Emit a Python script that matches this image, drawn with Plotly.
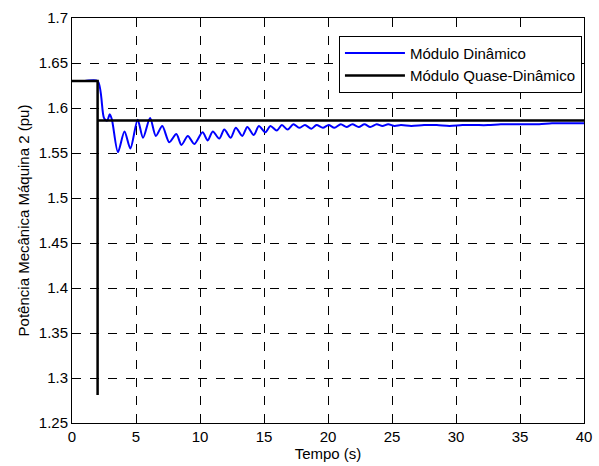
import plotly.graph_objects as go

# Módulo Dinâmico (key points / extremes)
t_din = [0, 1.0, 2.0, 2.5, 2.75, 2.95, 3.12, 3.59, 4.1, 4.56, 5.13, 5.55, 6.1, 6.55, 7.05,
         7.6, 8.15, 8.55, 9.05, 9.55, 10.2, 10.6, 11.0, 11.5, 11.9, 12.4, 12.8, 13.3,
         13.7, 14.2, 14.6, 15.1, 15.5, 16.0, 16.4, 16.85, 17.3, 17.75, 18.2, 18.7, 19.1,
         19.6, 20.05, 20.5, 21.0, 21.45, 21.9, 22.4, 22.85, 23.3, 23.8, 24.25, 24.7,
         25.2, 25.7, 26.5, 27.5, 28.5, 29.5, 30.5, 31.5, 32.5, 33.5, 34.5, 35.5, 36.5,
         37.5, 38.5, 40]
p_din = [1.630, 1.630, 1.630, 1.589, 1.586, 1.593, 1.587, 1.551, 1.574, 1.555, 1.587, 1.567,
         1.589, 1.569, 1.580, 1.562, 1.571, 1.559, 1.569, 1.560, 1.573, 1.564, 1.574, 1.566,
         1.576, 1.567, 1.578, 1.569, 1.579, 1.570, 1.580, 1.573, 1.580, 1.575, 1.581, 1.576,
         1.582, 1.578, 1.581, 1.577, 1.581, 1.578, 1.581, 1.578, 1.582, 1.579, 1.582, 1.579,
         1.582, 1.579, 1.582, 1.580, 1.582, 1.580, 1.581, 1.580, 1.581, 1.581, 1.580, 1.581,
         1.581, 1.581, 1.582, 1.582, 1.582, 1.582, 1.583, 1.583, 1.583]

# Módulo Quase-Dinâmico
t_qd = [0, 2.0, 2.0, 2.0, 40]
p_qd = [1.630, 1.630, 1.281, 1.586, 1.586]

x_ticks = [0, 5, 10, 15, 20, 25, 30, 35, 40]
y_ticks = [1.25, 1.3, 1.35, 1.4, 1.45, 1.5, 1.55, 1.6, 1.65, 1.7]
y_tick_text = ["1.25", "1.3", "1.35", "1.4", "1.45", "1.5", "1.55", "1.6", "1.65", "1.7"]

fig = go.Figure()
fig.add_trace(go.Scatter(x=t_din, y=p_din, mode="lines", name="Módulo Dinâmico",
                         line=dict(color="#0000ff", width=2, shape="spline", smoothing=0.8)))
fig.add_trace(go.Scatter(x=t_qd, y=p_qd, mode="lines", name="Módulo Quase-Dinâmico",
                         line=dict(color="#000000", width=2.5)))

font = "Liberation Sans, Arial, sans-serif"
axis_common = dict(showline=True, linecolor="black", linewidth=1, mirror="allticks",
                   ticks="inside", ticklen=5, tickcolor="black", showgrid=True,
                   gridcolor="black", gridwidth=1, griddash="dash", zeroline=False,
                   ticklabeloverflow="allow",
                   tickfont=dict(family=font, size=15, color="black"))

fig.update_xaxes(range=[0, 40], tickvals=x_ticks,
                 title=dict(text="Tempo (s)", font=dict(family=font, size=15, color="black"),
                            standoff=2), **axis_common)
fig.update_yaxes(range=[1.25, 1.7], tickvals=y_ticks, ticktext=y_tick_text,
                 title=dict(text="Potência Mecânica Máquina 2 (pu)",
                            font=dict(family=font, size=15, color="black"), standoff=5),
                 **axis_common)

fig.update_layout(
    width=599, height=466,
    margin=dict(l=72, r=7, t=18, b=43),
    paper_bgcolor="white", plot_bgcolor="white",
    showlegend=True,
    legend=dict(x=0.996, y=0.956, xanchor="right", yanchor="top",
                bgcolor="white", bordercolor="black", borderwidth=1,
                font=dict(family=font, size=15, color="black"),
                tracegroupgap=0, itemwidth=60),
)

fig.write_html("out.html")
